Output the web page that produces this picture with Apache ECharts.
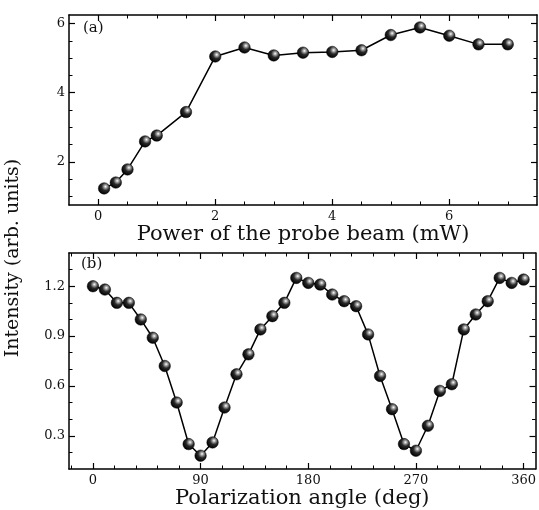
<!DOCTYPE html>
<html>
<head>
<meta charset="utf-8">
<script src="https://cdn.jsdelivr.net/npm/echarts@6/dist/echarts.min.js"></script>
<style>html,body{margin:0;padding:0;background:#fff}#c{width:539px;height:510px}</style>
</head>
<body>
<div id="c"></div>
<script>
// ---- data ----
const powerX = [0.1, 0.3, 0.5, 0.8, 1.0, 1.5, 2.0, 2.5, 3.0, 3.5, 4.0, 4.5, 5.0, 5.5, 6.0, 6.5, 7.0];
const powerY = [1.23, 1.40, 1.78, 2.59, 2.76, 3.44, 5.05, 5.31, 5.08, 5.16, 5.18, 5.23, 5.67, 5.89, 5.65, 5.40, 5.40];
const angleX = [0, 10, 20, 30, 40, 50, 60, 70, 80, 90, 100, 110, 120, 130, 140, 150, 160, 170, 180,
                190, 200, 210, 220, 230, 240, 250, 260, 270, 280, 290, 300, 310, 320, 330, 340, 350, 360];
const angleY = [1.20, 1.18, 1.10, 1.10, 1.00, 0.89, 0.72, 0.50, 0.25, 0.18, 0.26, 0.47, 0.67, 0.79, 0.94, 1.02, 1.10, 1.25, 1.22,
                1.21, 1.15, 1.11, 1.08, 0.91, 0.66, 0.46, 0.25, 0.21, 0.36, 0.57, 0.61, 0.94, 1.03, 1.11, 1.25, 1.22, 1.24];

// tick labels / tick positions
const topXMajor = [0, 2, 4, 6];
const topXMinor = [0.5, 1, 1.5, 2.5, 3, 3.5, 4.5, 5, 5.5, 6.5, 7];
const topYMajor = [2, 4, 6];
const topYMinor = [1, 1.5, 2.5, 3, 3.5, 4.5, 5, 5.5];
const botXMajor = [0, 90, 180, 270, 360];
const botXMinor = [-18, 18, 36, 54, 72, 108, 126, 144, 162, 198, 216, 234, 252, 288, 306, 324, 342];
const botYMajor = [0.3, 0.6, 0.9, 1.2];
const botYMinor = [0.2, 0.4, 0.5, 0.7, 0.8, 1.0, 1.1, 1.3];

const xNameTop = 'Power of the probe beam (mW)';
const xNameBot = 'Polarization angle (deg)';
const yName = 'Intensity (arb. units)';

const FONT = 'DejaVu Serif';

function makeAxes(kind, gridIndex, min, max, major, minor) {
  const axes = [];
  const positions = kind === 'x' ? ['bottom', 'top'] : ['left', 'right'];
  positions.forEach((pos, pi) => {
    // major ticks (+ labels on primary side)
    axes.push({
      type: 'value', gridIndex, position: pos, min, max,
      axisLine: { show: true, onZero: false, lineStyle: { color: '#000', width: 1.5 } },
      axisTick: { show: true, inside: true, length: 6, customValues: major, lineStyle: { color: '#000', width: 1.2 } },
      axisLabel: { show: pi === 0, customValues: major, color: '#111', fontFamily: FONT, fontSize: 13, margin: kind === 'x' ? 5 : 4 },
      splitLine: { show: false }
    });
    // minor ticks
    axes.push({
      type: 'value', gridIndex, position: pos, min, max,
      axisLine: { show: false, onZero: false },
      axisTick: { show: true, inside: true, length: 3.5, customValues: minor, lineStyle: { color: '#000', width: 1 } },
      axisLabel: { show: false, customValues: minor },
      splitLine: { show: false }
    });
  });
  return axes;
}

const xAxes = [
  ...makeAxes('x', 0, -0.5, 7.5, topXMajor, topXMinor),
  ...makeAxes('x', 1, -20, 370, botXMajor, botXMinor)
];
const yAxes = [
  ...makeAxes('y', 0, 0.75, 6.25, topYMajor, topYMinor),
  ...makeAxes('y', 1, 0.1, 1.4, botYMajor, botYMinor)
];
xAxes[0].name = xNameTop;
xAxes[4].name = xNameBot;
[0, 4].forEach(i => {
  xAxes[i].nameLocation = 'middle';
  xAxes[i].nameGap = 19;
  xAxes[i].nameTextStyle = { fontFamily: FONT, fontSize: 21, color: '#111', verticalAlign: 'top' };
});

const ball = {
  type: 'radial', x: 0.62, y: 0.35, r: 0.65,
  colorStops: [
    { offset: 0, color: '#ffffff' },
    { offset: 0.18, color: '#aaaaaa' },
    { offset: 0.5, color: '#2a2a2a' },
    { offset: 1, color: '#000000' }
  ]
};

function seriesFor(xs, ys, idx) {
  return {
    type: 'line', xAxisIndex: idx, yAxisIndex: idx,
    data: xs.map((x, i) => [x, ys[i]]),
    symbol: 'circle', symbolSize: 11.5,
    lineStyle: { color: '#000', width: 1.5 },
    itemStyle: { color: ball, borderColor: '#000', borderWidth: 0.5 },
    animation: false, z: 5
  };
}

const chart = echarts.init(document.getElementById('c'), null, { renderer: 'canvas' });
chart.setOption({
  animation: false,
  backgroundColor: '#fff',
  grid: [
    { left: 69, top: 15, width: 468, height: 190 },
    { left: 69, top: 253, width: 468, height: 218 }
  ],
  xAxis: xAxes,
  yAxis: yAxes,
  series: [seriesFor(powerX, powerY, 0), seriesFor(angleX, angleY, 4)],
  graphic: [
    { type: 'text', left: 83, top: 21, style: { text: '(a)', font: '15px "DejaVu Serif"', fill: '#111' } },
    { type: 'text', left: 81, top: 257, style: { text: '(b)', font: '15px "DejaVu Serif"', fill: '#111' } },
    { type: 'text', x: 13, y: 258, rotation: Math.PI / 2,
      style: { text: yName, font: '19px "DejaVu Serif"', fill: '#111', align: 'center', verticalAlign: 'middle' } }
  ]
});
</script>
</body>
</html>
